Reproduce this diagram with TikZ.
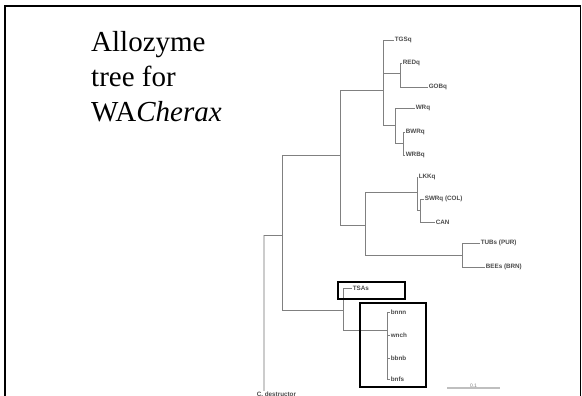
\documentclass[tikz,border=0pt]{standalone}
\usepackage{fontspec}
\setmainfont{Liberation Serif}
\setsansfont{Liberation Sans}
\usetikzlibrary{calc}
\begin{document}
\begin{tikzpicture}[x=1pt,y=-1pt,
  br/.style={draw=black!50,line width=0.9pt},
  lbl/.style={anchor=west,inner sep=0.6pt,font=\sffamily\bfseries\fontsize{6.3}{7}\selectfont,text=black!70},
  hbox/.style={draw=black,line width=2pt}]
\useasboundingbox (0,0) rectangle (582,396);
\fill[white] (0,0) rectangle (582,396);
% frame
\draw[line width=2.2pt] (5,400) -- (5,6) -- (581,6);
\draw[line width=1pt] (580,6) -- (580,400);
% title
\node[anchor=north west,align=left,inner sep=0pt,font=\fontsize{29}{35}\selectfont] (title) at (91,31)
  {Allozyme\\tree for\\WA\textit{Cherax}};
% internal nodes
\coordinate (R) at (264,235);
\coordinate (N1) at (282,235);
\coordinate (N2) at (340,155);
\coordinate (N3) at (383,90);
\coordinate (N3a) at (400,73);
\coordinate (N4) at (395,125);
\coordinate (N4a) at (403,143);
\coordinate (N5) at (365,225);
\coordinate (N6) at (417,192);
\coordinate (N6a) at (420,210);
\coordinate (N6b) at (462,255);
\coordinate (N7) at (343,310);
\coordinate (N8) at (387,330);
% labels
\node[lbl] (TGS) at (394,40) {TGSq};
\node[lbl] (RED) at (402,63) {REDq};
\node[lbl] (GOB) at (428,87) {GOBq};
\node[lbl] (WR) at (415,108) {WRq};
\node[lbl] (BWR) at (405,132) {BWRq};
\node[lbl] (WRB) at (405,155) {WRBq};
\node[lbl] (LKK) at (418,177) {LKKq};
\node[lbl] (SWR) at (424,199) {SWRq (COL)};
\node[lbl] (CAN) at (435,222) {CAN};
\node[lbl] (TUB) at (480,243) {TUBs (PUR)};
\node[lbl] (BEE) at (485,267) {BEEs (BRN)};
\node[lbl] (TSA) at (352,288) {TSAs};
\node[lbl] (bnnn) at (390,312) {bnnn};
\node[lbl] (wnch) at (390,335) {wnch};
\node[lbl] (bbnb) at (390,358) {bbnb};
\node[lbl] (bnfs) at (390,379) {bnfs};
\node[lbl,anchor=base west] (Cdes) at (256,396) {C. destructor};
% branches
\draw[draw=black!20,line width=2.6pt] (R) -- (R |- Cdes.north);
\draw[br] (R) -- (N1);
\draw[br] (N1) |- (N2);
\draw[br] (N1) |- (N7);
\draw[br] (N2) |- (N3);
\draw[br] (N2) |- (N5);
\draw[br] (N3) |- (TGS.west);
\draw[br] (N3) |- (N3a);
\draw[br] (N3) |- (N4);
\draw[br] (N3a) |- (RED.west);
\draw[br] (N3a) |- (GOB.west);
\draw[br] (N4) |- (WR.west);
\draw[br] (N4) |- (N4a);
\draw[br] (N4a) |- (BWR.west);
\draw[br] (N4a) |- (WRB.west);
\draw[br] (N5) |- (N6);
\draw[br] (N5) |- (N6b);
\draw[br] (N6) |- (LKK.west);
\draw[br] (N6) |- (N6a);
\draw[br] (N6a) |- (SWR.west);
\draw[br] (N6a) |- (CAN.west);
\draw[br] (N6b) |- (TUB.west);
\draw[br] (N6b) |- (BEE.west);
\draw[br] (N7) |- (TSA.west);
\draw[br] (N7) |- (N8);
\draw[br] (N8) |- (bnnn.west);
\draw[br] (N8) |- (wnch.west);
\draw[br] (N8) |- (bbnb.west);
\draw[br] (N8) |- (bnfs.west);
% highlight boxes
\draw[hbox] (338,282) rectangle (405,299);
\draw[hbox] (360,303) rectangle (426,387);
% scale bar
\coordinate (sbL) at (447,388);
\coordinate (sbR) at (500,388);
\draw[draw=black!25,line width=2pt] (sbL) -- (sbR);
\node[lbl,anchor=south,text=black!50,font=\sffamily\fontsize{5}{6}\selectfont] (sbl) at ($(sbL)!0.5!(sbR)$) {0.1};
\end{tikzpicture}
\end{document}
